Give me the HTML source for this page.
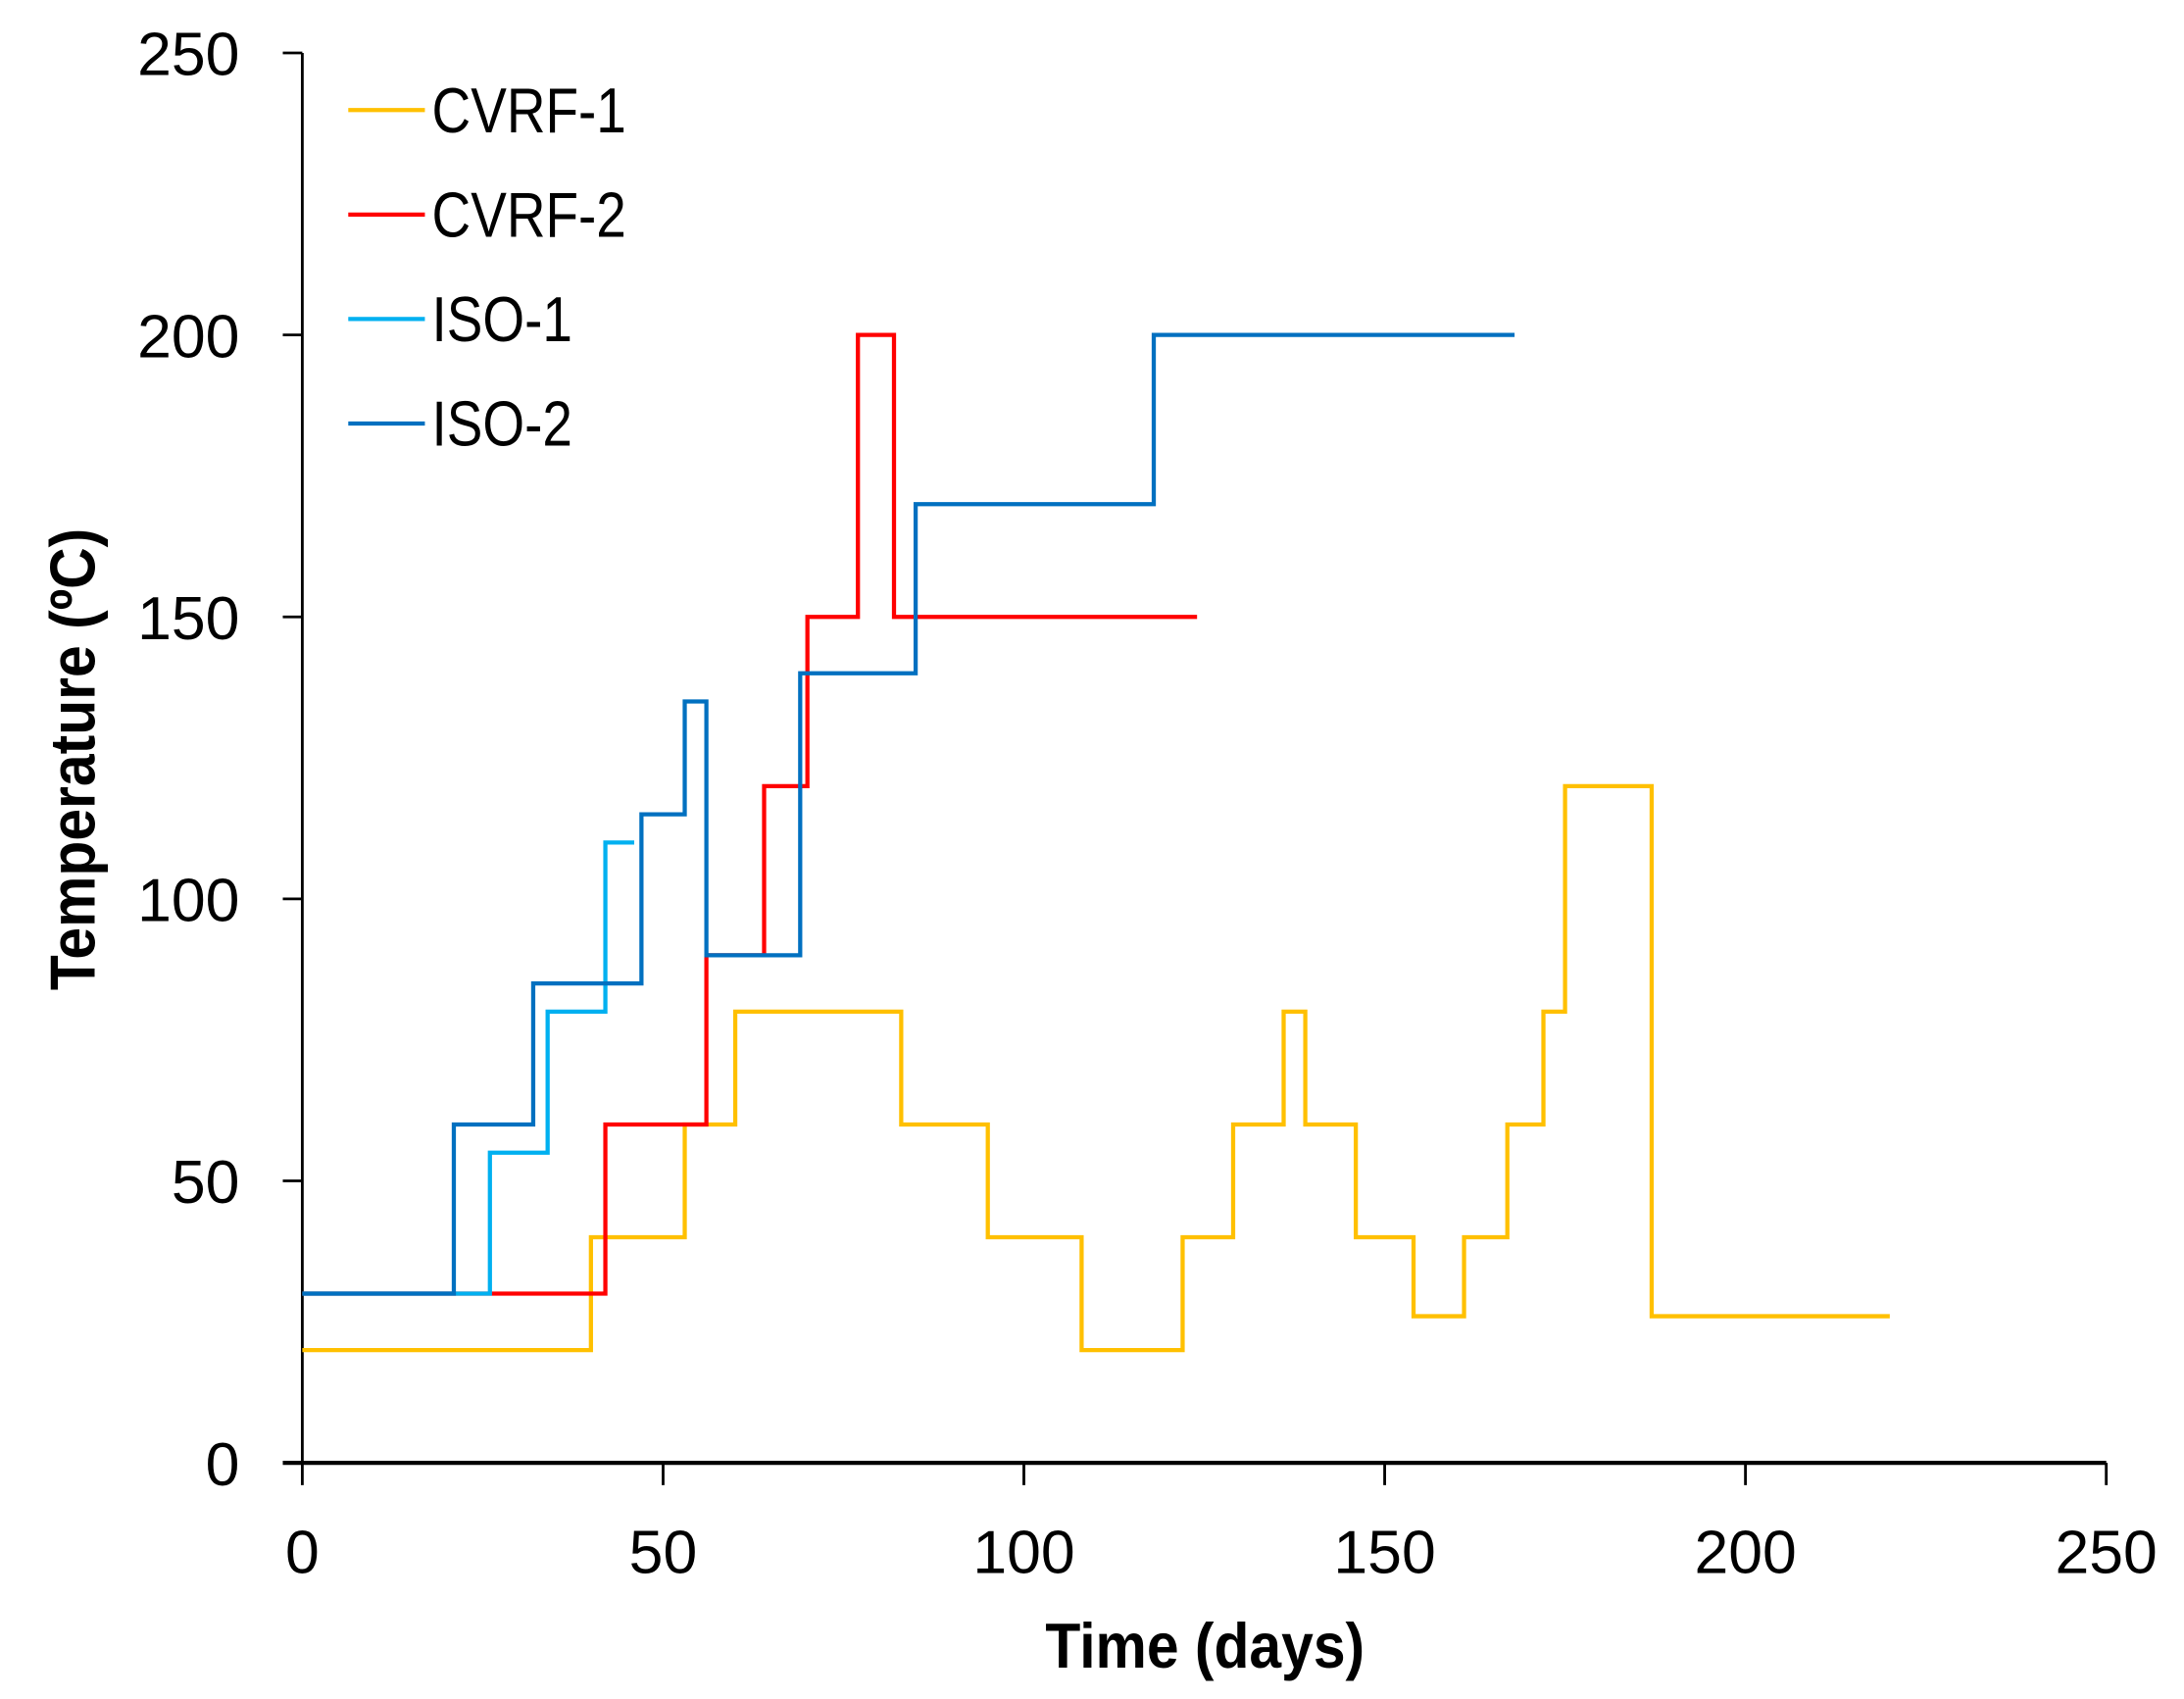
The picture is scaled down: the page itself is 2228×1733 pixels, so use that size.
<!DOCTYPE html>
<html><head><meta charset="utf-8"><style>
html,body{margin:0;padding:0;background:#fff}
svg{display:block}
text{font-family:"Liberation Sans",sans-serif;fill:#000}
</style></head><body>
<svg id="chart" width="2228" height="1733" viewBox="0 0 1567.8 1219.5" xmlns="http://www.w3.org/2000/svg">
<g id="axes"></g>
<g id="series"></g>
<g id="legend"></g>
<text x="865" y="1197" font-size="46" font-weight="bold" text-anchor="middle" transform="translate(865 0) scale(0.9 1) translate(-865 0)">Time (days)</text>
<text transform="translate(68 545) rotate(-90) scale(0.9 1)" font-size="46" font-weight="bold" text-anchor="middle">Temperature (ºC)</text>
</svg>
<script>
const xTicks=[0,50,100,150,200,250];
const yTicks=[0,50,100,150,200,250];
const names=["CVRF-1","CVRF-2","ISO-1","ISO-2"];
const colors=["#FFC000","#FF0000","#00B0F0","#0070C0"];
const cvrf1Times=[0,40,53,60,83,95,108,122,129,136,139,146,154,161,167,172,175,187];
const cvrf1Vals=[20,40,60,80,60,40,20,40,60,80,60,40,26,40,60,80,120,26];
const cvrf1End=220;
const cvrf2Times=[0,42,56,64,70,77,82];
const cvrf2Vals=[30,60,90,120,150,200,150];
const cvrf2End=124;
const iso1Times=[0,26,34,42];
const iso1Vals=[30,55,80,110];
const iso1End=46;
const iso2Times=[0,21,32,47,53,56,69,85,118];
const iso2Vals=[30,60,85,115,135,90,140,170,200];
const iso2End=168;

const NS="http://www.w3.org/2000/svg";
const X0=217,X1=1512,Y0=1050,Y1=38;
const xs=v=>X0+(v-0)/250*(X1-X0);
const ys=v=>Y0-(v-0)/250*(Y0-Y1);
function mk(tag,attrs,parent){const e=document.createElementNS(NS,tag);for(const k in attrs)e.setAttribute(k,attrs[k]);parent.appendChild(e);return e;}
const axes=document.getElementById('axes');
let e=mk('line',{x1:X0,y1:Y1,x2:X0,y2:Y0,stroke:'#000','stroke-width':2},axes);


e=mk('line',{x1:203,y1:Y0,x2:X1,y2:Y0,stroke:'#000','stroke-width':3},axes);


yTicks.forEach(t=>{
 let l=mk('line',{x1:203,y1:ys(t),x2:X0,y2:ys(t),stroke:'#000','stroke-width':2},axes);
 
 
 let tx=mk('text',{x:172,y:ys(t)+16,'font-size':44,'text-anchor':'end'},axes);
 tx.textContent=t;
 
 
});
xTicks.forEach(t=>{
 let l=mk('line',{x1:xs(t),y1:Y0,x2:xs(t),y2:1066,stroke:'#000','stroke-width':2},axes);
 
 
 let tx=mk('text',{x:xs(t),y:1129,'font-size':44,'text-anchor':'middle'},axes);
 tx.textContent=t;
 
 
});
const series=[[cvrf1Times,cvrf1Vals,cvrf1End],[cvrf2Times,cvrf2Vals,cvrf2End],[iso1Times,iso1Vals,iso1End],[iso2Times,iso2Vals,iso2End]];
const sg=document.getElementById('series');
series.forEach((s,i)=>{
 const [T,V,end]=s;let d='';
 for(let k=0;k<T.length;k++){
  const xa=xs(T[k]),xb=xs(k+1<T.length?T[k+1]:end),y=ys(V[k]);
  d+=(k===0?'M':'L')+xa+' '+y+' L'+xb+' '+y+' ';
 }
 const p=mk('path',{d:d,fill:'none',stroke:colors[i],'stroke-width':3,'stroke-linejoin':'miter'},sg);
 
 
});
const lg=document.getElementById('legend');
names.forEach((n,i)=>{
 const y=79+i*75;
 const g=mk('g',{},lg);
 
 
 mk('line',{x1:250,y1:y,x2:305,y2:y,stroke:colors[i],'stroke-width':3},g);
 const t=mk('text',{x:0,y:0,'font-size':46,transform:'translate(310 '+(y+16)+') scale(0.84 1)'},g);
 t.textContent=n;
});
</script>
</body></html>
